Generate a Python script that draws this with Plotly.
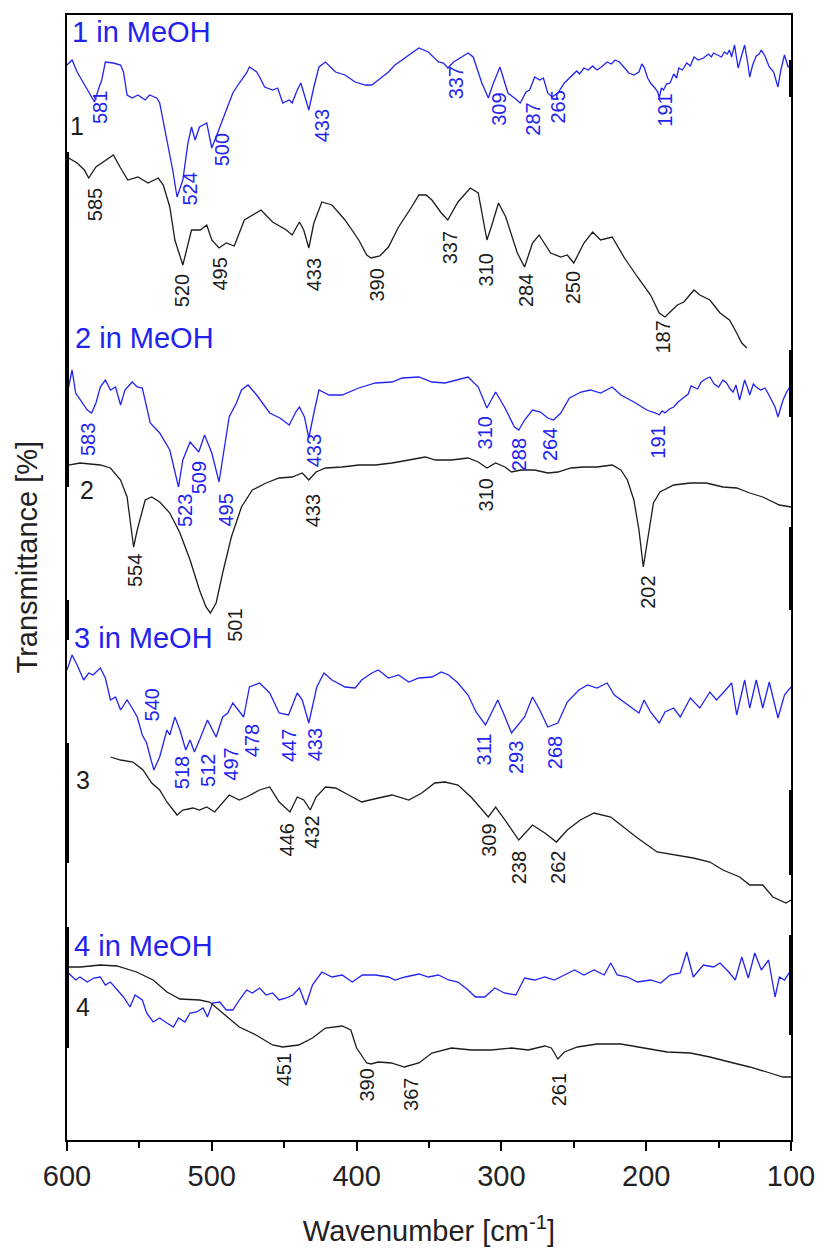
import numpy as np
import plotly.graph_objects as go

# ---------------------------------------------------------------
# Far-IR spectra, wavenumber (cm-1) vs. transmittance (offset, a.u.)
# ---------------------------------------------------------------

# 1 in MeOH
wn_1m = [600, 596.5, 593, 588.5, 584, 581, 578, 576, 573.5, 568, 563, 561, 558.5, 555, 551, 546, 543, 538, 536,
         531, 527, 524, 520, 516.5, 514, 511.5, 508.5, 503.5, 502, 500, 496, 490, 485.5, 481, 476, 474, 469, 467,
         463.5, 458, 454.5, 451, 446.5, 444.5, 441, 438.5, 436, 433, 429.5, 426, 421.5, 418, 414.5, 408, 401, 394,
         389.5, 385, 378, 373.5, 366.5, 357, 350.5, 343.5, 340, 337, 333, 323, 319.5, 313.5, 309, 306, 301, 299,
         295.5, 291, 287, 283, 280.5, 277, 273.5, 271, 268, 265, 261, 256.5, 251, 248, 246, 243, 240, 237, 234,
         231, 227, 224, 221.5, 218.5, 215.5, 212, 208.5, 205, 203, 201.5, 199, 197, 194, 192, 191, 189.5, 188, 186,
         183.5, 181, 179, 177.5, 175, 172, 169.5, 167, 164, 160.5, 157, 155, 153.5, 151, 148, 146, 144, 142.5, 141,
         139, 137.5, 136.5, 134, 132, 130, 128.5, 126.5, 124, 122, 120.5, 118, 115, 112, 109, 107, 104.5, 102, 100]
tr_1m = [107.5, 108.0, 106.8, 105.7, 104.5, 103.8, 105.2, 106.0, 107.8, 107.7, 107.5, 106.8, 104.5, 104.2, 104.5,
         104.0, 104.5, 104.2, 103.7, 100.0, 97.0, 94.3, 96.0, 99.7, 101.3, 100.0, 101.3, 101.7, 100.5, 99.2, 100.7,
         103.0, 104.7, 105.7, 106.7, 107.3, 106.8, 106.3, 105.3, 105.0, 105.2, 103.7, 104.0, 103.7, 105.0, 105.7,
         104.5, 103.0, 105.3, 107.3, 107.8, 107.3, 106.8, 106.5, 105.8, 105.5, 105.5, 106.0, 106.8, 107.5, 108.2,
         109.2, 108.8, 107.8, 107.7, 107.2, 107.8, 108.7, 108.3, 105.7, 104.2, 105.5, 107.3, 106.3, 104.7, 104.2,
         103.7, 104.8, 105.0, 106.3, 106.0, 106.2, 104.7, 104.3, 104.7, 105.7, 106.5, 106.9, 106.6, 107.2, 107.0,
         107.4, 107.0, 107.3, 107.8, 107.6, 108.0, 107.8, 107.3, 106.7, 106.5, 106.8, 107.6, 107.3, 106.2, 105.7,
         105.2, 104.8, 104.2, 105.2, 105.0, 105.6, 105.7, 106.6, 106.2, 107.2, 107.0, 107.7, 107.4, 108.3, 108.0,
         108.2, 108.6, 108.3, 108.7, 108.5, 108.3, 108.8, 108.6, 109.0, 108.3, 109.5, 108.0, 107.2, 108.5, 109.5,
         107.8, 106.3, 107.5, 108.4, 108.6, 109.0, 108.4, 107.3, 106.8, 105.3, 107.0, 108.5, 107.3, 107.5]
pk_1m = [581, 524, 500, 433, 337, 309, 287, 265, 191]

# 1 (solid)
wn_1 = [600, 596, 593, 588, 585, 580, 573.5, 568, 563, 558, 551, 544, 537, 533.5, 529, 525.5, 520, 517, 514, 508,
        503.5, 500, 495, 490, 484.5, 477.5, 472, 466, 458, 448.5, 444.5, 439.5, 436.5, 433, 429.5, 424, 417, 408,
        398.5, 393, 390, 384, 378, 371, 362, 357, 352, 348, 341.5, 337, 330, 321.5, 316, 310, 307, 302, 297, 289,
        284, 278.5, 274, 266, 259, 254.5, 250, 243, 237, 231.5, 223.5, 215, 206, 197, 191, 187, 183.5, 178.5, 174,
        167, 163, 156, 149, 142.5, 137.5, 134, 130.5]
tr_1 = [98.3, 98.0, 97.7, 97.0, 96.2, 97.3, 98.0, 98.5, 97.2, 96.0, 96.3, 95.7, 96.2, 95.5, 93.3, 90.0, 87.5, 89.3,
        91.0, 91.0, 91.5, 90.0, 89.2, 89.7, 89.4, 92.0, 92.5, 93.0, 91.8, 91.0, 90.5, 91.8, 91.0, 89.2, 91.7, 93.8,
        93.5, 92.0, 90.0, 88.5, 88.2, 88.4, 89.3, 91.3, 93.3, 94.5, 94.5, 94.0, 92.7, 92.0, 93.8, 95.2, 94.7, 90.0,
        91.3, 93.7, 92.3, 88.7, 87.3, 89.7, 90.5, 88.7, 88.3, 88.5, 87.7, 89.7, 90.8, 90.0, 90.3, 88.2, 86.3, 84.5,
        82.7, 82.3, 82.8, 83.5, 83.8, 85.0, 84.5, 84.0, 82.7, 82.0, 80.7, 79.7, 79.2]
pk_1 = [585, 520, 495, 433, 390, 337, 310, 284, 250, 187]

# 2 in MeOH
wn_2m = [600, 599, 596.5, 594, 589.5, 586, 583, 580, 577, 573.5, 570, 566.5, 563, 560, 555, 551.5, 548, 542.5, 536,
         529, 523, 520, 515, 509, 505, 500, 495, 491, 488, 483, 479.5, 475, 469, 465, 460, 453, 446.5, 442, 439.5,
         436, 433, 429.5, 426, 419, 410, 398.5, 387, 375.5, 368.5, 357, 348, 339, 330, 323, 316, 310, 304, 297.5,
         291, 288, 284, 278.5, 273, 268, 264, 259, 253, 245, 238.5, 231.5, 223.5, 217.5, 208.5, 199.5, 196, 193.5,
         191, 189, 187, 184, 181, 178, 174.5, 171, 169, 167, 164.5, 162, 159, 156, 153, 150, 147, 144.5, 142, 140,
         138, 135.5, 132, 130, 128.5, 126, 124, 121, 118, 116, 113.5, 111, 109, 107, 105.5, 103, 101, 100]
tr_2m = [74.5, 75.3, 77.0, 74.7, 73.7, 73.0, 72.7, 73.7, 75.3, 76.0, 75.0, 75.3, 73.5, 75.0, 75.8, 75.3, 75.2, 71.7,
         70.7, 69.0, 65.3, 68.0, 69.8, 68.8, 70.5, 68.7, 65.8, 69.3, 72.3, 73.7, 75.0, 75.5, 74.5, 73.7, 72.7, 72.2,
         71.5, 72.8, 73.3, 72.3, 70.2, 72.7, 75.0, 74.5, 74.5, 75.2, 75.7, 75.8, 76.2, 76.3, 75.8, 75.7, 76.0, 76.3,
         75.3, 73.2, 74.8, 73.2, 71.3, 71.0, 72.0, 73.0, 72.8, 72.2, 72.0, 72.7, 74.2, 74.8, 75.0, 74.7, 75.3, 74.5,
         73.8, 73.0, 72.8, 72.7, 72.5, 72.9, 72.7, 73.1, 73.3, 73.8, 74.2, 74.6, 75.4, 75.3, 75.1, 75.8, 76.1, 76.3,
         75.6, 75.3, 76.0, 75.7, 75.1, 74.8, 75.5, 74.0, 76.0, 75.2, 74.5, 75.6, 75.3, 75.0, 75.2, 74.7, 74.0, 73.3,
         72.3, 73.2, 74.0, 74.8, 75.3, 75.5]
pk_2m = [583, 523, 509, 495, 433, 310, 288, 264, 191]

# 2 (solid)
wn_2 = [600, 599, 591, 577, 570, 563, 558.5, 556, 554, 551.5, 549.5, 546, 541.5, 536, 529, 522, 515, 508.5, 504,
        501, 497, 492.5, 486.5, 479.5, 472, 462.5, 453.5, 444.5, 437.5, 433, 428, 421.5, 410, 398.5, 387, 375.5,
        364, 352.5, 345.5, 334.5, 323, 316, 310, 304, 297.5, 293, 286.5, 277, 268, 261, 252, 243, 234, 223.5,
        217.5, 213, 208.5, 205, 202, 198.5, 195, 190.5, 181, 169.5, 158.5, 147, 137.5, 128.5, 119.5, 108, 101, 100]
tr_2 = [67.4, 67.5, 67.7, 67.5, 67.2, 66.0, 64.3, 61.5, 59.3, 61.0, 62.0, 64.0, 64.3, 63.8, 62.7, 60.7, 58.0, 55.0,
        53.3, 52.7, 53.7, 56.7, 60.3, 63.3, 65.0, 65.7, 66.2, 66.3, 66.7, 66.0, 66.8, 67.2, 67.3, 67.5, 67.5, 67.7,
        68.0, 68.3, 68.0, 68.0, 68.2, 67.8, 67.2, 67.7, 67.3, 66.8, 67.0, 67.0, 66.7, 66.8, 67.2, 67.3, 67.3, 67.5,
        67.0, 66.0, 64.0, 61.0, 57.3, 60.7, 63.7, 64.8, 65.5, 65.7, 65.7, 65.3, 65.2, 64.7, 64.3, 63.5, 63.3, 63.3]
pk_2 = [554, 501, 433, 310, 202]

# 3 in MeOH
wn_3m = [600, 596.5, 593, 588.5, 585, 582, 577, 573.5, 570, 566.5, 563, 558.5, 555, 551.5, 548, 545, 542.5, 540,
         536, 531, 529, 525.5, 522, 518, 515, 512, 508.5, 503, 499.5, 497, 492.5, 489, 485.5, 481, 478, 474, 467,
         460, 453.5, 447, 441, 437.5, 433, 427.5, 422.5, 417, 408, 401, 396.5, 389.5, 385, 378, 371, 364, 357, 348,
         341.5, 336.5, 330, 323, 317.5, 311, 302.5, 297.5, 293, 284, 278.5, 273.5, 268, 261, 254.5, 246.5, 240.5,
         234, 227, 222, 217.5, 210.5, 205, 201.5, 197, 191, 187, 181, 176.5, 169.5, 163, 156, 151.5, 147, 141,
         137.5, 132, 128.5, 124, 119.5, 115, 109, 104.5, 100]
tr_3m = [47.0, 48.5, 47.5, 46.0, 46.7, 46.5, 47.2, 46.2, 44.0, 44.3, 43.0, 44.0, 43.2, 42.3, 40.5, 39.7, 38.3, 37.0,
         38.3, 41.0, 40.5, 42.3, 41.0, 39.0, 40.0, 38.8, 40.0, 42.0, 41.0, 40.3, 42.3, 42.7, 43.7, 42.8, 42.3, 45.3,
         45.7, 44.7, 42.7, 42.5, 44.7, 44.0, 41.7, 45.3, 46.7, 46.0, 45.3, 45.2, 46.0, 46.7, 47.0, 46.2, 46.5, 45.8,
         46.2, 46.3, 46.8, 46.5, 45.7, 44.5, 42.8, 41.5, 44.0, 42.3, 40.7, 42.3, 44.3, 43.0, 41.3, 41.7, 43.8, 45.0,
         45.5, 45.2, 45.7, 44.5, 44.0, 43.3, 42.7, 44.0, 42.8, 41.7, 42.8, 43.2, 42.3, 44.2, 43.2, 44.8, 44.0, 44.7,
         45.7, 42.5, 46.0, 43.2, 46.0, 43.2, 45.8, 42.2, 44.5, 45.3]
pk_3m = [540, 518, 512, 497, 478, 447, 433, 311, 293, 268]

# 3 (solid)
wn_3 = [570, 563, 554.5, 547.5, 541.5, 536, 531, 524, 520, 513, 508.5, 503.5, 498, 492.5, 488, 481, 476, 467, 460,
        453.5, 446, 441, 436.5, 432, 428, 421.5, 414.5, 405.5, 396.5, 385, 375.5, 364, 355, 346, 339, 330, 321,
        309, 304, 297.5, 288, 278.5, 270, 262, 254.5, 245.5, 236, 224.5, 215.5, 206, 192.5, 181, 167.5, 156, 147,
        135.5, 128.5, 119.5, 112.5, 103.5, 100]
tr_3 = [38.3, 38.0, 37.8, 37.0, 35.7, 35.0, 33.8, 32.5, 33.0, 33.2, 33.0, 33.3, 32.8, 33.7, 34.5, 34.0, 34.3, 35.0,
        35.3, 33.8, 32.8, 34.3, 34.0, 33.0, 34.3, 35.3, 35.2, 34.5, 33.8, 34.2, 34.5, 34.0, 34.7, 35.7, 35.8, 35.5,
        34.3, 32.3, 33.3, 32.0, 30.0, 31.5, 30.7, 29.8, 31.0, 32.0, 32.7, 32.3, 31.3, 30.2, 28.8, 28.5, 28.2, 27.8,
        27.0, 26.3, 25.5, 25.5, 24.3, 23.7, 24.0]
pk_3 = [446, 432, 309, 288, 262]
pk_3_text = ["446", "432", "309", "238", "262"]

# 4 in MeOH
wn_4m = [600, 599, 594, 591, 586, 581.5, 577, 573.5, 570, 565.5, 561, 556.5, 553, 548, 545, 540.5, 536, 531, 526.5,
         523, 518.5, 515, 510.5, 506, 503, 499.5, 494.5, 490, 485.5, 481, 476, 472, 467, 462.5, 458, 453.5, 448.5,
         444, 439.5, 435, 430.5, 424, 417, 410, 403, 396, 387, 378, 373.5, 366.5, 357, 350.5, 343.5, 336.5, 330,
         323, 318, 311.5, 304.5, 298, 290, 284, 277, 270, 263.5, 256.5, 249.5, 243, 236, 229, 224.5, 220, 213, 206,
         197, 190, 183.5, 176.5, 172, 167.5, 160.5, 153.5, 149, 143, 138.5, 134, 129.5, 125, 120.5, 115.5, 111, 108,
         104.5, 100]
tr_4m = [15.0, 16.7, 16.0, 16.3, 15.8, 16.2, 16.3, 15.5, 15.8, 15.0, 14.3, 13.3, 14.5, 14.0, 12.7, 11.8, 12.2, 11.7,
         11.3, 12.2, 11.8, 12.7, 12.8, 13.2, 12.3, 13.7, 13.8, 13.0, 13.0, 14.0, 15.0, 14.7, 15.2, 14.5, 14.7, 14.0,
         14.2, 14.5, 15.2, 13.5, 15.5, 16.8, 16.3, 16.5, 15.8, 16.5, 16.5, 16.3, 16.0, 16.3, 16.6, 16.3, 16.5, 16.0,
         15.8, 15.0, 14.3, 14.3, 15.2, 14.7, 14.5, 16.2, 16.0, 16.3, 16.0, 16.5, 17.0, 16.5, 17.0, 16.5, 17.7, 16.5,
         16.3, 15.8, 16.0, 15.7, 16.5, 16.7, 18.8, 16.3, 17.5, 17.3, 17.7, 16.8, 16.0, 18.3, 16.2, 18.7, 17.0, 18.0,
         14.3, 16.3, 16.0, 17.0]

# 4 (solid)
wn_4 = [600, 590.8, 577, 565.5, 552, 540.5, 531, 522, 508.5, 501.5, 492.5, 481, 469.5, 458, 451, 440, 430.5, 421.5,
        410, 404, 400, 393, 390, 385, 376, 367, 357, 348, 334.5, 320.5, 307, 293, 281.5, 270, 265.5, 261, 256.5,
        247.5, 234, 217.5, 201.5, 185.5, 169.5, 156, 142.5, 128.5, 114.5, 105.5, 100]
tr_4 = [17.3, 17.3, 17.5, 17.4, 16.8, 16.0, 14.8, 14.1, 14.0, 13.8, 12.7, 11.3, 10.5, 9.5, 9.3, 9.5, 10.2, 11.2,
        11.4, 11.0, 9.2, 7.7, 7.6, 7.8, 7.7, 7.3, 7.7, 8.7, 9.2, 9.0, 9.0, 9.2, 9.0, 9.4, 9.2, 8.1, 8.8, 9.3, 9.6,
        9.6, 9.2, 8.8, 8.7, 8.3, 7.8, 7.3, 6.7, 6.3, 6.3]
pk_4 = [451, 390, 367, 261]

# ---------------------------------------------------------------
# styling / layout
# ---------------------------------------------------------------
BLUE = "#2323f0"
BLACK = "#1c1c1c"
FONT = "Liberation Sans, Arial, sans-serif"

# peak-label offsets in px (right, down) relative to the band minimum
off_1m = [(5, -12), (12, -25), (10, -16), (13, -2), (8, -3), (10, -6), (12, -1), (5, -7), (5, -5)]
off_1 = [(6, 9), (-1, 8), (0, 9), (5, 9), (5, 10), (2, 10), (-1, 12), (1, 6), (-1, 7), (-3, 3)]
off_2m = [(-4, 9), (6, 6), (0, 8), (6, 11), (5, -5), (-2, 7), (0, 7), (-4, 7), (-2, 10)]
off_2 = [(1, 6), (24, -5), (4, 13), (-1, 9), (4, 8)]
off_3m = [(-2, -83), (-4, 5), (13, 1), (14, 10), (8, 6), (0, 13), (6, 4), (-1, 7), (4, 7), (7, 8)]
off_3 = [(-3, 10), (1, 5), (0, 6), (0, 10), (1, 8)]
off_4 = [(1, 5), (-5, 4), (6, 10), (1, 13)]

fig = go.Figure()

spectra = [
    (wn_1m, tr_1m, BLUE), (wn_1, tr_1, BLACK),
    (wn_2m, tr_2m, BLUE), (wn_2, tr_2, BLACK),
    (wn_3m, tr_3m, BLUE), (wn_3, tr_3, BLACK),
    (wn_4m, tr_4m, BLUE), (wn_4, tr_4, BLACK),
]
for wn, tr, col in spectra:
    fig.add_trace(go.Scatter(x=wn, y=tr, mode="lines", line=dict(color=col, width=1.3),
                             showlegend=False, hoverinfo="skip"))


def band_labels(wn, tr, peaks, offsets, color, texts=None):
    xs = np.array(wn)[::-1]
    ys = np.array(tr)[::-1]
    out = []
    for i, (p, (dx, dy)) in enumerate(zip(peaks, offsets)):
        txt = texts[i] if texts else str(p)
        out.append(dict(x=p, y=float(np.interp(p, xs, ys)), xref="x", yref="y", text=txt,
                        textangle=-90, showarrow=False, xanchor="center", yanchor="top",
                        xshift=dx, yshift=-dy, borderpad=0,
                        font=dict(family=FONT, size=20, color=color)))
    return out


ann = []
ann += band_labels(wn_1m, tr_1m, pk_1m, off_1m, BLUE)
ann += band_labels(wn_1, tr_1, pk_1, off_1, BLACK)
ann += band_labels(wn_2m, tr_2m, pk_2m, off_2m, BLUE)
ann += band_labels(wn_2, tr_2, pk_2, off_2, BLACK)
ann += band_labels(wn_3m, tr_3m, pk_3m, off_3m, BLUE)
ann += band_labels(wn_3, tr_3, pk_3, off_3, BLACK, pk_3_text)
ann += band_labels(wn_4, tr_4, pk_4, off_4, BLACK)

# sample names
names = [("1 in MeOH", 597.7, 110.8, BLUE, 29, "left"), ("1", 593.0, 101.4, BLACK, 25, "center"),
         ("2 in MeOH", 595.7, 80.2, BLUE, 29, "left"), ("2", 586.4, 65.0, BLACK, 25, "center"),
         ("3 in MeOH", 596.4, 50.2, BLUE, 29, "left"), ("3", 589.1, 36.0, BLACK, 25, "center"),
         ("4 in MeOH", 596.4, 19.4, BLUE, 29, "left"), ("4", 589.1, 13.3, BLACK, 25, "center")]
for txt, x, y, col, sz, xa in names:
    ann.append(dict(x=x, y=y, xref="x", yref="y", text=txt, showarrow=False, xanchor=xa,
                    yanchor="middle", font=dict(family=FONT, size=sz, color=col)))

# y-axis title
ann.append(dict(x=-0.055, y=0.518, xref="paper", yref="paper", text="Transmittance [%]", textangle=-90,
                showarrow=False, xanchor="center", yanchor="middle",
                font=dict(family=FONT, size=29, color="#222222")))

# thicker overlapping segments on the side spines
H = 1125.0
shapes = []
for y0, y1 in [(152, 487), (600, 640), (743, 863), (927, 1048)]:
    shapes.append(dict(type="line", xref="paper", yref="paper", x0=0, x1=0,
                       y0=(1140 - y0) / H, y1=(1140 - y1) / H, line=dict(color="black", width=4)))
for y0, y1 in [(60, 97), (350, 417), (527, 610), (790, 875), (935, 1035)]:
    shapes.append(dict(type="line", xref="paper", yref="paper", x0=1, x1=1,
                       y0=(1140 - y0) / H, y1=(1140 - y1) / H, line=dict(color="black", width=4)))

fig.update_layout(
    width=827, height=1255,
    margin=dict(l=67, r=32, t=15, b=115),
    paper_bgcolor="white", plot_bgcolor="white",
    annotations=ann, shapes=shapes,
    font=dict(family=FONT, color="#222222"),
    xaxis=dict(range=[600, 100], autorange=False, tickmode="array",
               tickvals=[600, 500, 400, 300, 200, 100],
               ticks="outside", ticklen=9, tickwidth=2, tickcolor="black",
               minor=dict(tickmode="array", tickvals=[550, 450, 350, 250, 150], ticks="outside",
                          ticklen=6, tickwidth=2, tickcolor="black"),
               showline=True, linewidth=2, linecolor="black", mirror=True,
               showgrid=False, zeroline=False,
               tickfont=dict(family=FONT, size=29, color="#222222"),
               title=dict(text="Wavenumber [cm<sup>-1</sup>]", standoff=30,
                          font=dict(family=FONT, size=29, color="#222222"))),
    yaxis=dict(range=[0, 112.5], autorange=False, showticklabels=False, ticks="",
               showline=True, linewidth=2, linecolor="black", mirror=True,
               showgrid=False, zeroline=False),
)

fig.write_html("out.html")
